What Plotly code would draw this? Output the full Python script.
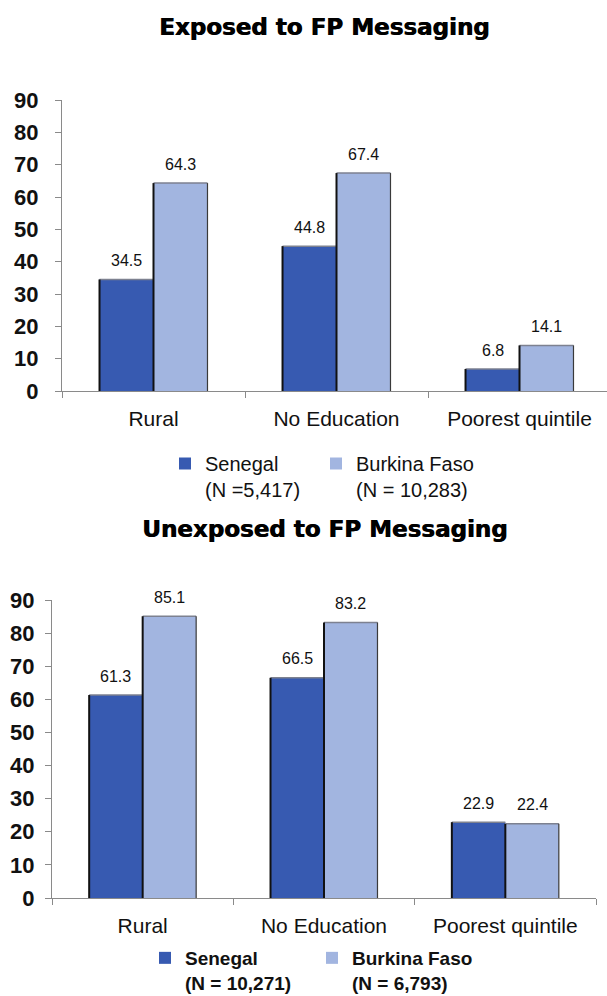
import plotly.graph_objects as go

# Categories and values
categories = ["Rural", "No Education", "Poorest quintile"]

exposed_senegal = [34.5, 44.8, 6.8]
exposed_burkina = [64.3, 67.4, 14.1]
unexposed_senegal = [61.3, 66.5, 22.9]
unexposed_burkina = [85.1, 83.2, 22.4]

exposed_names = ["Senegal<br>(N =5,417)", "Burkina Faso<br>(N = 10,283)"]
unexposed_names = ["<b>Senegal<br>(N = 10,271)</b>", "<b>Burkina Faso<br>(N = 6,793)</b>"]

y_ticks = [0, 10, 20, 30, 40, 50, 60, 70, 80, 90]

SENEGAL_COLOR = "#375AB1"
BURKINA_COLOR = "#A2B5E0"
BARGAP = 0.41
BAR_W = (1 - BARGAP) / 2
W, H = 607, 996

fig = go.Figure()
xs = list(range(len(categories)))


def add_panel(sen, bur, names, xref, yref, legends):
    fig.add_trace(go.Bar(x=xs, y=sen, name=names[0], marker_color=SENEGAL_COLOR,
                         marker_line_width=0, offsetgroup="s", xaxis=xref, yaxis=yref,
                         legend=legends[0], hoverinfo="y"))
    fig.add_trace(go.Bar(x=xs, y=bur, name=names[1], marker_color=BURKINA_COLOR,
                         marker_line_width=0, offsetgroup="b", xaxis=xref, yaxis=yref,
                         legend=legends[1], hoverinfo="y"))
    # shaded edges of the bars: dark left sides, grey tops
    lx, ly, tx, ty, rx, ry = [], [], [], [], [], []
    for i in xs:
        for left, v in ((i - BAR_W, sen[i]), (i, bur[i])):
            lx += [left, left, None]
            ly += [0, v, None]
            tx += [left, left + BAR_W, None]
            ty += [v, v, None]
        rx += [i + BAR_W, i + BAR_W, None]
        ry += [0, bur[i], None]
    fig.add_trace(go.Scatter(x=tx, y=ty, mode="lines", line=dict(color="#7d8190", width=1.5),
                             xaxis=xref, yaxis=yref, showlegend=False, hoverinfo="skip"))
    fig.add_trace(go.Scatter(x=rx, y=ry, mode="lines", line=dict(color="#3a3a3a", width=1.2),
                             xaxis=xref, yaxis=yref, showlegend=False, hoverinfo="skip"))
    fig.add_trace(go.Scatter(x=lx, y=ly, mode="lines", line=dict(color="#111111", width=2),
                             xaxis=xref, yaxis=yref, showlegend=False, hoverinfo="skip"))
    # value labels above each bar
    for i in xs:
        for cx, v in ((i - BAR_W / 2, sen[i]), (i + BAR_W / 2, bur[i])):
            fig.add_annotation(x=cx, y=v, xref=xref, yref=yref, text=f"{v:.1f}",
                               showarrow=False, yanchor="middle", yshift=19,
                               font=dict(family="Liberation Sans", size=16, color="#111"))


add_panel(exposed_senegal, exposed_burkina, exposed_names, "x", "y", ("legend", "legend3"))
add_panel(unexposed_senegal, unexposed_burkina, unexposed_names, "x2", "y2", ("legend2", "legend4"))

xaxis_common = dict(
    tickmode="array", tickvals=xs, ticktext=categories,
    ticks="outside", ticklen=9, tickcolor="rgba(0,0,0,0)",
    minor=dict(tickmode="array", tickvals=[-0.5, 0.5, 1.5, 2.5], ticks="outside",
               ticklen=6, tickcolor="#8a8a8a", showgrid=False),
    showline=True, linecolor="#8a8a8a", linewidth=1.2, showgrid=False, zeroline=False,
    tickfont=dict(family="Liberation Sans", size=21, color="#111"), fixedrange=True,
)
yaxis_common = dict(
    range=[0, 90], tickmode="array", tickvals=y_ticks, ticks="outside", ticklen=6,
    tickcolor="#8a8a8a", showline=True, linecolor="#8a8a8a", linewidth=1.2,
    showgrid=False, zeroline=False,
    tickfont=dict(family="Liberation Sans", size=22, color="#111", weight="bold"),
)


def legend_at(left_px, top_px, size):
    return dict(orientation="h", x=left_px / W, xanchor="left", y=1 - top_px / H, yanchor="top",
                valign="top", font=dict(family="Liberation Sans", size=size, color="#111"),
                bgcolor="rgba(0,0,0,0)")


fig.update_layout(
    width=W, height=H, margin=dict(l=0, r=0, t=0, b=0, autoexpand=False),
    paper_bgcolor="white", plot_bgcolor="white",
    barmode="group", bargap=BARGAP, bargroupgap=0,
    xaxis=dict(domain=[62 / W, 1], range=[-0.5, (W - 62) / 183 - 0.5], anchor="y", **xaxis_common),
    yaxis=dict(domain=[1 - 391 / H, 1 - 100 / H], anchor="x", ticklabelstandoff=12, **yaxis_common),
    xaxis2=dict(domain=[52 / W, 596 / W], range=[-0.5, 2.5], anchor="y2", **xaxis_common),
    yaxis2=dict(domain=[1 - 898 / H, 1 - 600 / H], anchor="x2", ticklabelstandoff=6, **yaxis_common),
    legend=legend_at(165, 444, 20),
    legend3=legend_at(316, 444, 20),
    legend2=legend_at(145, 939, 19),
    legend4=legend_at(312, 939, 19),
    showlegend=True,
)

title_font = dict(family="DejaVu Sans", size=23, color="#000", weight="bold",
                  shadow="0.7px 0 0 #000")
fig.add_annotation(text="Exposed to FP Messaging", x=324 / W, y=1 - 27 / H, xref="paper", yref="paper",
                   showarrow=False, font=title_font, xanchor="center", yanchor="middle")
fig.add_annotation(text="Unexposed to FP Messaging", x=324 / W, y=1 - 529 / H, xref="paper", yref="paper",
                   showarrow=False, font=title_font, xanchor="center", yanchor="middle")

fig.write_html("out.html")
